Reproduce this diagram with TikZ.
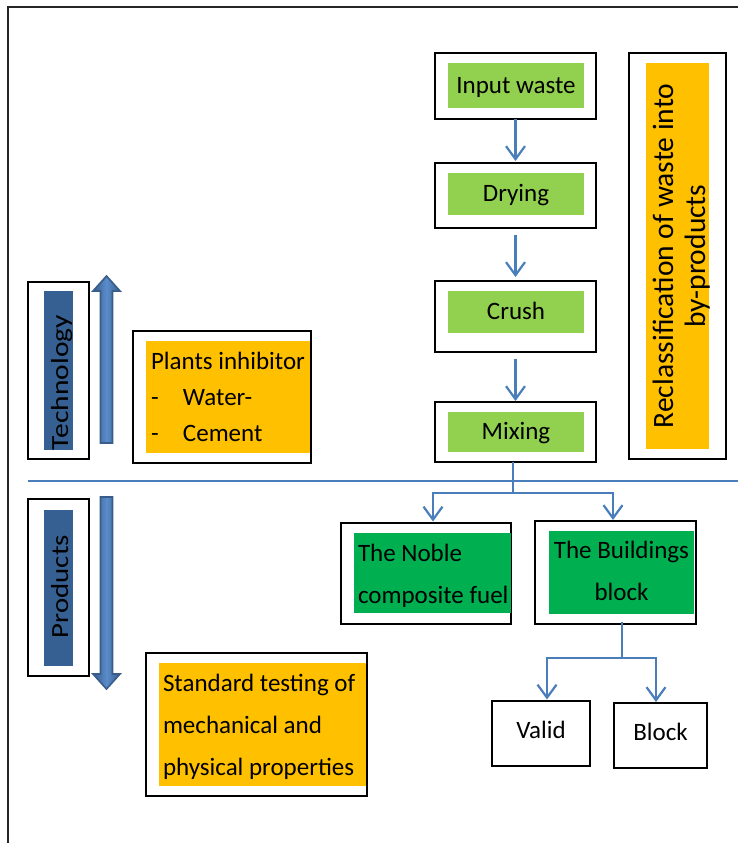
\documentclass[tikz,border=0pt]{standalone}
\usepackage{fontspec}
\setmainfont{Carlito}
\usepackage{graphicx}
\usetikzlibrary{arrows.meta}

\definecolor{leaf}{HTML}{92D050}
\definecolor{deepgreen}{HTML}{00B050}
\definecolor{amber}{HTML}{FFC000}
\definecolor{barblue}{HTML}{376092}
\definecolor{linkblue}{HTML}{4A7EBB}
\definecolor{arrowdark}{HTML}{385D8A}
\definecolor{arrowlight}{HTML}{5A8CCB}

\begin{document}
\begin{tikzpicture}[x=1pt,y=-1pt,
  box/.style={draw=black, line width=1.4pt, inner sep=0pt, outer sep=0pt},
  band/.style={inner sep=0pt, outer sep=0pt},
  label/.style={band, text height=20pt, text depth=5pt,
    font=\fontsize{25}{30}\selectfont},
  plain/.style={inner sep=0pt, outer sep=0pt},
  link/.style={draw=linkblue, line width=2.2pt},
  flow/.style={link, -{Straight Barb[length=13pt,width=19pt]}},
  blockarrow/.style={draw=arrowdark, line width=1.6pt, line join=miter,
    left color=arrowdark, right color=arrowdark, middle color=arrowlight}
]
\useasboundingbox (0,0) rectangle (738,843);

% page frame
\draw[line width=1.5pt, black!85] (8,843) -- (8,7) -- (738,7);

% process chain
\node[box, minimum width=161pt, minimum height=66pt] (inw) at (515.5,86) {};
\node[label, fill=leaf, minimum width=136pt, minimum height=45pt] (inwf) at (516,85.5) {Input waste};

\node[box, minimum width=161pt, minimum height=65pt] (dry) at (515.5,195.5) {};
\node[label, fill=leaf, minimum width=136pt, minimum height=42pt] (dryf) at (516,194) {Drying};

\node[box, minimum width=161pt, minimum height=71pt] (crush) at (515.5,316.5) {};
\node[label, fill=leaf, minimum width=136pt, minimum height=42pt] (crushf) at (516,312) {Crush};

\node[box, minimum width=161pt, minimum height=60pt] (mix) at (515.5,432) {};
\node[label, fill=leaf, minimum width=136pt, minimum height=40pt] (mixf) at (516,432) {Mixing};

\draw[flow, shorten >=2pt] (inw.south) -- (dry.north);
\draw[flow, shorten >=4pt] ([yshift=-7pt]dry.south) -- (crush.north);
\draw[flow, shorten >=1pt] ([yshift=-7pt]crush.south) -- (mix.north);

% side note on the right
\node[box, minimum width=97pt, minimum height=406pt] (recl) at (677.5,256) {};
\node[band, fill=amber, minimum width=63pt, minimum height=386pt] (reclf) at (677.5,256) {};
\node[plain, rotate=90, anchor=base] (reclt) at (673,256)
  {\fontsize{29.5}{32}\selectfont\begin{tabular}[t]{@{}c@{}}Reclassification of waste into\\by-products\end{tabular}};

% technology side
\node[box, minimum width=61pt, minimum height=177pt] (tech) at (58.5,370.5) {};
\node[band, fill=barblue, minimum width=29pt, minimum height=159pt] (techf) at (58.5,370.5) {};
\node[plain, rotate=90, anchor=base west] (techt) at (68,450)
  {\fontsize{24.6}{30}\selectfont\scalebox{1.2}[1]{Technology}};
\draw[blockarrow] (100.5,443) -- (100.5,291) -- (93,291) -- (106.5,276)
  -- (120,291) -- (112.5,291) -- (112.5,443) -- cycle;

\node[box, minimum width=178pt, minimum height=132pt] (plants) at (222,397) {};
\node[band, fill=amber, minimum width=164pt, minimum height=112pt] (plantsf) at (228,397) {};
\node[plain, anchor=base west] (plantst) at (151,369)
  {\fontsize{25}{36}\selectfont\begin{tabular}[t]{@{}l@{}}Plants inhibitor\\
   \makebox[32pt][l]{-}Water-\\ \makebox[32pt][l]{-}Cement\end{tabular}};

% divider
\coordinate (divL) at (28,481);
\coordinate (divR) at (738,481);
\draw[link] (divL) -- (divR);

% products side
\node[box, minimum width=61pt, minimum height=177pt] (prod) at (58.5,587.5) {};
\node[band, fill=barblue, minimum width=29pt, minimum height=156pt] (prodf) at (58.5,588) {};
\node[plain, rotate=90, anchor=base west] (prodt) at (68,638)
  {\fontsize{24.6}{30}\selectfont\scalebox{1.17}[1]{Products}};
\draw[blockarrow] (100.5,497) -- (100.5,674) -- (93,674) -- (106.5,689)
  -- (120,674) -- (112.5,674) -- (112.5,497) -- cycle;

\node[box, minimum width=221pt, minimum height=143pt] (std) at (256.5,724.5) {};
\node[band, fill=amber, minimum width=207pt, minimum height=123pt] (stdf) at (262.5,724.5) {};
\node[plain, anchor=base west] (stdt) at (163,691)
  {\fontsize{25}{42}\selectfont\begin{tabular}[t]{@{}l@{}}Standard testing of\\
   mechanical and\\ physical properties\end{tabular}};

% outputs
\node[box, minimum width=170pt, minimum height=101pt] (noble) at (426,573.5) {};
\node[band, fill=deepgreen, minimum width=157pt, minimum height=80pt] (noblef) at (432.5,573) {};
\node[plain, anchor=base west] (noblet) at (358,561)
  {\fontsize{25}{42}\selectfont\begin{tabular}[t]{@{}l@{}}The Noble\\composite fuel\end{tabular}};

\node[box, minimum width=161pt, minimum height=103pt] (build) at (615.5,572.5) {};
\node[band, fill=deepgreen, minimum width=145pt, minimum height=83pt] (buildf) at (621.5,572.5) {};
\node[plain, anchor=base] (buildt) at (621.5,558)
  {\fontsize{25}{42}\selectfont\begin{tabular}[t]{@{}c@{}}The Buildings\\block\end{tabular}};

\coordinate (fork) at ([xshift=-2.5pt]mix.south |- 0,493);
\draw[link] ([xshift=-2.5pt]mix.south) -- (fork);
\draw[flow, line join=miter, shorten >=1.5pt] (fork) -| ([xshift=7pt]noble.north);
\draw[flow, line join=miter, shorten >=1pt] (fork) -| ([xshift=-2.5pt]build.north);

% test results
\node[box, minimum width=98pt, minimum height=65pt, text height=16pt, text depth=6pt,
  font=\fontsize{25}{30}\selectfont] (valid) at (541,733.5) {Valid};
\node[box, minimum width=93pt, minimum height=65pt, text height=16pt, text depth=6pt,
  font=\fontsize{25}{30}\selectfont] (block) at (660.5,735.5) {Block};

\coordinate (fork2) at ([xshift=6.5pt]build.south |- 0,658);
\draw[link] ([xshift=6.5pt,yshift=2pt]build.south) -- (fork2);
\draw[flow, line join=miter, shorten >=1.5pt] (fork2) -| ([xshift=6pt]valid.north);
\draw[flow, line join=miter, shorten >=1pt] (fork2) -| ([xshift=-4.5pt]block.north);
\end{tikzpicture}
\end{document}
